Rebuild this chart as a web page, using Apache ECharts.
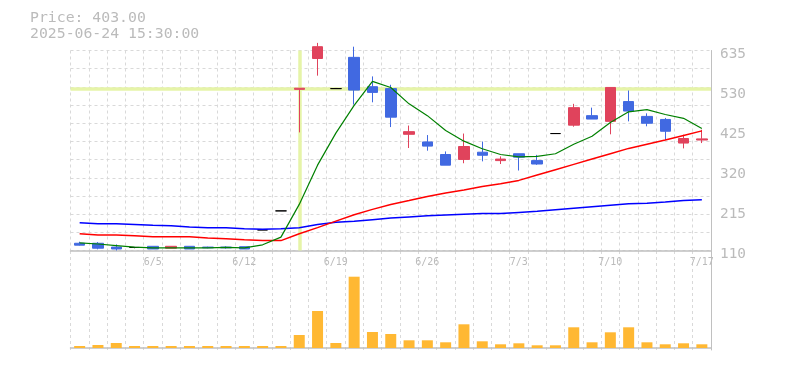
<!DOCTYPE html>
<html>
<head>
<meta charset="utf-8">
<script src="https://cdn.jsdelivr.net/npm/echarts@6/dist/echarts.min.js"></script>
<style>
html,body{margin:0;padding:0;background:#fff;}
#chart{width:785px;height:370px;}
</style>
</head>
<body>
<div id="chart"></div>
<script>
const dates = ['5/30','6/2','6/3','6/4','6/5','6/6','6/9','6/10','6/11','6/12','6/13','6/16','6/17','6/18','6/19','6/20','6/23','6/24','6/25','6/26','6/27','6/30','7/1','7/2','7/3','7/4','7/7','7/8','7/9','7/10','7/11','7/14','7/15','7/16','7/17'];
const opens  = [129,129,119,118,121,116,121,119,119,120,164,214,533,614,535,617,540,535,415,395,362,349,368,346,364,346,417,439,464,449,501,462,454,392,400];
const closes = [124,116,114,118,114,121,114,117,117,114,164,214,536,645,535,531,525,460,422,384,334,383,360,350,355,337,417,485,455,538,476,444,423,404,403];
const lows   = [123,113,110,116,114,116,114,116,115,114,164,214,420,569,535,493,499,434,379,372,334,339,344,337,320,335,417,435,455,415,449,436,400,378,392];
const highs  = [133,132,126,118,121,121,121,120,121,120,164,214,536,655,535,645,567,545,438,413,370,417,396,357,364,361,417,495,485,538,530,470,458,414,427];
const ma5  = [130,127,123,119,117,117,117,117,118,117,125,145,231,334,418,491,554,538,495,464,425,397,377,362,356,357,364,389,410,446,474,480,467,457,430];
const ma25 = [154,151,151,149,146,146,146,143,141,138,136,136,154,170,187,204,218,231,241,252,261,269,278,285,294,308,322,336,350,364,378,389,400,412,424];
const ma75 = [183,180,180,178,176,175,172,170,170,167,166,167,170,178,184,187,191,195,198,201,203,205,207,207,210,213,217,221,225,229,233,234,237,241,243];
const volumes = [20,30,50,20,20,20,20,20,20,20,20,20,130,370,50,713,160,140,77,77,57,237,67,37,47,27,27,207,57,157,207,57,37,47,37];
const priceTicks = [110,215,320,425,530,635];
const headerPrice = 'Price: 403.00';
const headerTime = '2025-06-24 15:30:00';
const crossIndex = 12;
const crossPrice = 535;

const candles = dates.map((d,i)=>[opens[i],closes[i],lows[i],highs[i]]);
const gridColor = '#d9d9d9';
const axisGray = '#c0c0c0';
const txtGray = '#bbbbbb';
const mono = '"DejaVu Sans Mono", "Liberation Mono", monospace';

const chart = echarts.init(document.getElementById('chart'), null, {renderer:'canvas'});
chart.setOption({
  animation:false,
  backgroundColor:'#ffffff',
  title:{
    text: headerPrice + '\n' + headerTime,
    left:30, top:10.5, padding:0,
    textStyle:{fontFamily:mono,fontSize:14.8,fontWeight:'normal',color:txtGray,lineHeight:15.6}
  },
  grid:[
    {left:70.5, top:50.5, width:640.5, height:200},
    {left:70.5, top:251, width:640.5, height:99}
  ],
  xAxis:[
    {type:'category', gridIndex:0, data:dates, boundaryGap:true,
     axisLine:{show:true, lineStyle:{color:axisGray, width:1.5}},
     axisTick:{show:false, interval:0},
     axisLabel:{interval:(i)=>i%5===4, color:txtGray, fontFamily:mono, fontSize:10, margin:7},
     splitLine:{show:true, interval:0, lineStyle:{color:gridColor, type:[3,3], width:1}}},
    {type:'category', gridIndex:1, data:dates, boundaryGap:true,
     axisLine:{show:true, lineStyle:{color:axisGray, width:1.5}},
     axisTick:{show:false, interval:0},
     axisLabel:{show:false},
     splitLine:{show:true, interval:0, lineStyle:{color:gridColor, type:[3,3], width:1}}}
  ],
  yAxis:[
    {type:'value', gridIndex:0, position:'right', min:priceTicks[0], max:priceTicks[priceTicks.length-1], interval:105,
     axisLine:{show:true, lineStyle:{color:axisGray, width:1}},
     axisTick:{show:false},
     splitLine:{show:false},
     axisLabel:{color:txtGray, fontFamily:mono, fontSize:14.4, margin:9, verticalAlign:'top', lineHeight:7}},
    {type:'value', gridIndex:0, position:'left', min:0, max:11, interval:1,
     axisLine:{show:false}, axisTick:{show:false}, axisLabel:{show:false},
     splitLine:{show:true, lineStyle:{color:gridColor, type:[3,3], width:1}}},
    {type:'value', gridIndex:1, position:'right', min:-20, max:970,
     axisLine:{show:true, lineStyle:{color:axisGray, width:1}},
     axisTick:{show:false}, axisLabel:{show:false}, splitLine:{show:false}}
  ],
  series:[
    {type:'line', xAxisIndex:0, yAxisIndex:0, data:dates.map(()=>null), z:1, silent:true,
     markLine:{silent:true, z:1, symbol:['none','none'], label:{show:false},
       lineStyle:{color:'#e6f4a8', width:3.5, type:'solid'},
       data:[{xAxis:crossIndex},{yAxis:crossPrice}]}},
    {type:'candlestick', xAxisIndex:0, yAxisIndex:0, data:candles, barWidth:11, z:3, clip:true,
     itemStyle:{color:'#e0435c', color0:'#4169e1', borderColor:'#e0435c', borderColor0:'#4169e1', borderColorDoji:'#000000', borderWidth:1}},
    {type:'line', xAxisIndex:0, yAxisIndex:0, data:ma75, symbol:'none', z:4, lineStyle:{color:'#0000ff', width:1.5}},
    {type:'line', xAxisIndex:0, yAxisIndex:0, data:ma25, symbol:'none', z:4, lineStyle:{color:'#ff0000', width:1.5}},
    {type:'line', xAxisIndex:0, yAxisIndex:0, data:ma5, symbol:'none', z:5, lineStyle:{color:'#008000', width:1.2}},
    {type:'bar', xAxisIndex:1, yAxisIndex:2, data:volumes, barWidth:11, itemStyle:{color:'#ffb833'}}
  ]
});
</script>
</body>
</html>
